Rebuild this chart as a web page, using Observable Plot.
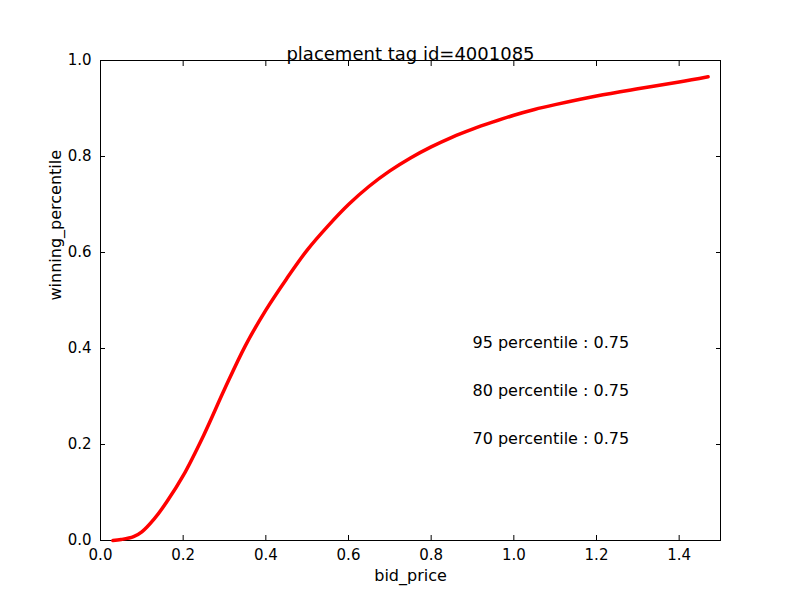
<!DOCTYPE html>
<html><head>
<script src="https://cdn.jsdelivr.net/npm/d3@7"></script>
<script src="https://cdn.jsdelivr.net/npm/@observablehq/plot@0.6"></script>
<style>body{margin:0;background:#fff}</style>
</head><body>
<div id="chart"></div>
<script>
const bidPrice = [0.03,0.05,0.08,0.1,0.13,0.16,0.2,0.25,0.3,0.35,0.4,0.45,0.5,0.55,0.6,0.65,0.7,0.75,0.8,0.85,0.9,0.95,1.0,1.05,1.1,1.2,1.3,1.4,1.47];
const winPct   = [0.0,0.002,0.008,0.018,0.045,0.08,0.135,0.22,0.315,0.405,0.48,0.545,0.605,0.655,0.7,0.738,0.77,0.797,0.82,0.84,0.857,0.872,0.886,0.898,0.908,0.926,0.941,0.955,0.966];
const xTicks = [0,0.2,0.4,0.6,0.8,1.0,1.2,1.4];
const yTicks = [0,0.2,0.4,0.6,0.8,1.0];
const notes = ["95 percentile : 0.75","80 percentile : 0.75","70 percentile : 0.75"];
const noteY = [0.4,0.3,0.2];
const data = bidPrice.map((x,i)=>({x,y:winPct[i]}));
const fmt = d=>d.toFixed(1);
const blank = ()=>"";
const chart = Plot.plot({
  width:800,height:600,
  marginLeft:100,marginRight:80,marginTop:60,marginBottom:60,
  style:{fontFamily:"DejaVu Sans",fontSize:"15px",color:"#000",background:"#fff"},
  x:{domain:[0,1.5]},
  y:{domain:[0,1]},
  marks:[
    Plot.frame({stroke:"#000"}),
    Plot.axisX(xTicks,{anchor:"bottom",tickSize:-5,tickPadding:14,tickFormat:fmt,label:null,fontSize:15}),
    Plot.axisX(xTicks,{anchor:"top",tickSize:-5,tickFormat:blank,label:null}),
    Plot.axisY(yTicks,{anchor:"left",tickSize:-5,tickPadding:14,tickFormat:fmt,label:null,fontSize:15}),
    Plot.axisY(yTicks,{anchor:"right",tickSize:-5,tickFormat:blank,label:null}),
    Plot.line(data,{x:"x",y:"y",stroke:"red",strokeWidth:3.5,curve:"catmull-rom"}),
    Plot.text(notes,{x:()=>0.9,y:(d,i)=>noteY[i],text:d=>d,textAnchor:"start",fontSize:16,dy:-6}),
    Plot.text(["placement tag id=4001085"],{frameAnchor:"top",dy:-13,fontSize:18}),
    Plot.text(["bid_price"],{frameAnchor:"bottom",dy:40,fontSize:16}),
    Plot.text(["winning_percentile"],{frameAnchor:"left",dx:-45,rotate:-90,fontSize:16})
  ]
});
document.getElementById("chart").append(chart);
</script>
</body></html>
